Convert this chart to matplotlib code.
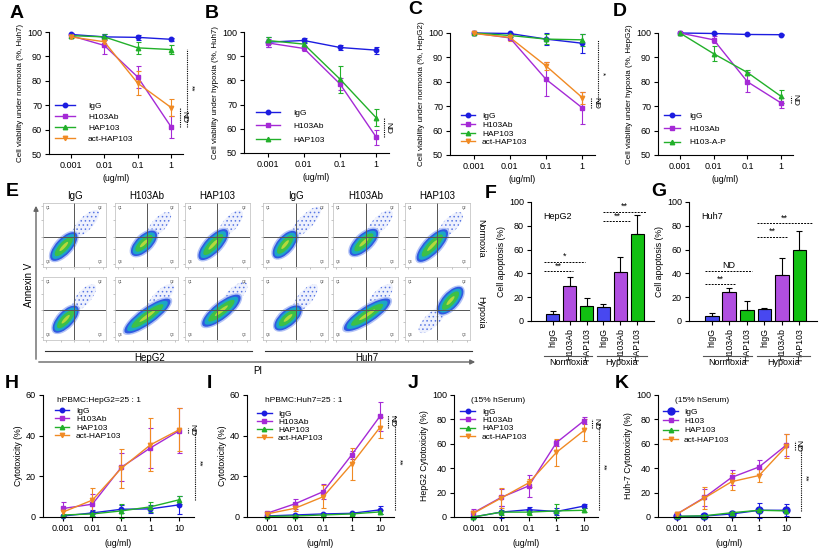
import matplotlib
matplotlib.use("Agg")
import matplotlib.pyplot as plt
from matplotlib.patches import Ellipse, FancyArrowPatch
import numpy as np

plt.rcParams["font.family"] = ["Liberation Sans", "DejaVu Sans"]
plt.rcParams["axes.linewidth"] = 0.8
plt.rcParams["hatch.linewidth"] = 0.6

W, H = 820, 550

# ---------------- data ----------------
conc4 = ["0.001", "0.01", "0.1", "1"]
conc5 = ["0.001", "0.01", "0.1", "1", "10"]

# A: Huh7 normoxia viability
a_igg = [99.0, 98.0, 97.8, 97.0]
a_igg_err = [0.6, 1.2, 1.0, 0.5]
a_h103 = [98.5, 94.5, 81.5, 61.0]
a_h103_err = [0.5, 3.5, 4.5, 4.5]
a_hap = [98.5, 98.0, 93.5, 92.8]
a_hap_err = [0.5, 1.0, 2.5, 2.0]
a_act = [98.0, 96.0, 79.0, 69.0]
a_act_err = [0.5, 1.5, 5.0, 3.5]

# B: Huh7 hypoxia viability
b_igg = [95.8, 96.5, 93.6, 92.5]
b_igg_err = [2.0, 1.0, 1.0, 1.5]
b_h103 = [95.5, 93.2, 78.5, 56.5]
b_h103_err = [1.5, 1.0, 2.5, 3.0]
b_hap = [96.5, 95.0, 80.5, 64.5]
b_hap_err = [1.5, 1.0, 5.5, 3.5]

# C: HepG2 normoxia viability
c_igg = [100.0, 99.8, 97.5, 95.8]
c_igg_err = [0.2, 0.3, 2.5, 3.8]
c_h103 = [100.0, 98.0, 81.0, 69.3]
c_h103_err = [0.2, 1.0, 7.0, 6.5]
c_hap = [100.0, 99.0, 97.5, 97.2]
c_hap_err = [0.2, 0.5, 2.0, 2.5]
c_act = [99.8, 98.2, 86.5, 73.5]
c_act_err = [0.3, 1.5, 1.5, 2.5]

# D: HepG2 hypoxia viability
d_igg = [100.0, 99.8, 99.4, 99.3]
d_igg_err = [0.2, 0.3, 0.3, 0.3]
d_h103 = [100.0, 97.2, 80.0, 71.3]
d_h103_err = [0.2, 1.5, 4.0, 2.0]
d_hap = [100.0, 91.5, 83.8, 74.0]
d_hap_err = [0.2, 3.0, 1.0, 2.5]

# F / G: apoptosis bars
bar_labels = ["hIgG", "H103Ab", "HAP103", "hIgG", "H103Ab", "HAP103"]
f_vals = [6.0, 29.0, 13.0, 12.0, 41.5, 73.0]
f_err = [2.5, 8.0, 6.0, 2.5, 12.0, 16.0]
g_vals = [4.0, 24.0, 9.0, 10.5, 39.0, 60.0]
g_err = [2.5, 4.0, 8.0, 0.8, 14.0, 16.0]

# H: HepG2 ADCC
h_igg = [0.5, 2.0, 3.8, 4.0, 6.0]
h_igg_err = [0.5, 1.5, 2.0, 2.0, 4.5]
h_h103 = [4.2, 6.3, 24.5, 34.0, 42.5]
h_h103_err = [3.0, 5.0, 7.0, 10.0, 11.0]
h_hap = [1.0, 1.5, 3.0, 5.0, 8.5]
h_hap_err = [0.5, 1.5, 3.5, 2.5, 2.0]
h_act = [2.5, 8.3, 24.0, 35.5, 43.0]
h_act_err = [2.0, 6.0, 9.5, 13.0, 10.5]

# I: Huh7 ADCC
i_igg = [0.5, 1.0, 1.5, 1.8, 3.5]
i_igg_err = [0.3, 0.5, 0.5, 0.5, 2.0]
i_h103 = [1.8, 6.5, 12.5, 30.5, 49.5]
i_h103_err = [0.5, 2.5, 3.5, 2.0, 7.0]
i_hap = [0.3, 0.5, 1.0, 1.5, 2.5]
i_hap_err = [0.2, 0.3, 0.5, 0.5, 1.0]
i_act = [1.5, 4.3, 10.0, 26.0, 44.0]
i_act_err = [0.5, 1.5, 5.5, 8.0, 5.0]

# J: HepG2 with 15% human serum
j_igg = [0.0, 4.0, 6.0, 4.5, 9.0]
j_igg_err = [0.5, 5.0, 2.0, 3.0, 2.0]
j_h103 = [3.5, 16.0, 25.5, 61.0, 79.0]
j_h103_err = [3.0, 7.0, 9.0, 2.5, 3.0]
j_hap = [0.0, 4.0, 4.0, 5.0, 5.5]
j_hap_err = [0.5, 2.0, 2.0, 6.0, 1.5]
j_act = [3.0, 15.5, 28.0, 53.0, 71.0]
j_act_err = [2.0, 8.0, 3.0, 11.0, 9.0]

# K: Huh-7 with 15% human serum
k_igg = [0.5, 0.8, 2.5, 5.5, 5.5]
k_igg_err = [0.5, 1.5, 1.5, 6.0, 5.0]
k_h103 = [2.5, 16.0, 32.5, 41.0, 59.0]
k_h103_err = [1.0, 7.0, 6.0, 6.0, 9.0]
k_hap = [0.5, 1.0, 3.5, 5.5, 5.0]
k_hap_err = [0.3, 0.5, 1.0, 1.0, 1.0]
k_act = [2.5, 15.5, 29.0, 34.0, 58.0]
k_act_err = [1.0, 9.0, 7.0, 5.5, 10.0]

# E: flow cytometry cloud shapes (axes fraction): dense core segment + sparse tail
# rows: HepG2 normoxia, HepG2 hypoxia, Huh7 normoxia, Huh7 hypoxia
flow_titles = ["IgG", "H103Ab", "HAP103", "IgG", "H103Ab", "HAP103"]
flow_core = [
    [(0.16, 0.14, 0.50, 0.50), (0.30, 0.22, 0.62, 0.52), (0.25, 0.15, 0.62, 0.55)],
    [(0.20, 0.16, 0.52, 0.50), (0.18, 0.14, 0.85, 0.62), (0.30, 0.25, 0.82, 0.68)],
    [(0.20, 0.18, 0.48, 0.52), (0.30, 0.22, 0.65, 0.55), (0.22, 0.12, 0.62, 0.55)],
    [(0.22, 0.20, 0.55, 0.50), (0.20, 0.18, 0.85, 0.62), (0.55, 0.45, 0.85, 0.80)],
]
flow_tail = [
    [(0.50, 0.50, 0.85, 0.85), (0.55, 0.50, 0.85, 0.82), (0.55, 0.50, 0.85, 0.85)],
    [(0.50, 0.50, 0.80, 0.85), (0.55, 0.50, 0.90, 0.85), (0.60, 0.55, 0.92, 0.88)],
    [(0.45, 0.48, 0.85, 0.90), (0.55, 0.50, 0.88, 0.85), (0.55, 0.50, 0.85, 0.82)],
    [(0.50, 0.48, 0.80, 0.85), (0.55, 0.50, 0.88, 0.85), (0.25, 0.15, 0.60, 0.50)],
]

C_IGG = "#1c1ce0"
C_H103 = "#a52ad6"
C_HAP = "#22b02a"
C_ACT = "#f08a24"
BAR_COLORS = ["#4848f0", "#b04ee0", "#12c012", "#4848f0", "#b04ee0", "#12c012"]


def rect(l, t, r, b):
    return [l / W, 1 - b / H, (r - l) / W, (b - t) / H]


def fx(px):
    return px / W


def fy(py):
    return 1 - py / H


fig = plt.figure(figsize=(8.2, 5.5), dpi=100)

# overlay canvas in pixel coords
can = fig.add_axes([0, 0, 1, 1], zorder=-1)
can.set_xlim(0, W)
can.set_ylim(H, 0)
can.axis("off")


def style_axes(ax):
    for s in ["top", "right"]:
        ax.spines[s].set_visible(False)
    ax.tick_params(direction="out", length=3, width=0.8, labelsize=6.5, pad=2)


def series(ax, y, err, color, marker, label, ms=3.2):
    x = np.arange(len(y))
    ax.errorbar(x, y, yerr=err, color=color, marker=marker, ms=ms, lw=1.0,
                elinewidth=0.8, capsize=1.8, capthick=0.8, label=label, clip_on=False)


def legend(ax, left, top, spacing, handle_px, gap_px):
    fs_px = 6 * 100 / 72
    hs, ls = ax.get_legend_handles_labels()
    hs = [h[0] for h in hs]
    ax.legend(hs, ls, loc="upper left", bbox_to_anchor=(fx(left), fy(top)),
              bbox_transform=fig.transFigure, frameon=False, fontsize=6,
              borderpad=0, borderaxespad=0, handlelength=handle_px / fs_px,
              handletextpad=gap_px / fs_px, labelspacing=(spacing - 9.0) / fs_px)


def sig(ax, x, y0, y1, text, dx=0.12, fs=6):
    ax.plot([x, x], [y0, y1], ls=(0, (1, 1)), color="black", lw=0.8, clip_on=False)
    ax.text(x + dx, (y0 + y1) / 2, text, rotation=-90, ha="center", va="center",
            fontsize=fs, clip_on=False)


def viability(ax, ylabel):
    style_axes(ax)
    ax.set_xlim(-0.65, 3.35)
    ax.set_ylim(50, 100)
    ax.set_xticks(range(4))
    ax.set_xticklabels(conc4)
    ax.set_yticks(range(50, 101, 10))
    ax.set_ylabel(ylabel, fontsize=5.8, labelpad=2)
    ax.set_xlabel("(ug/ml)", fontsize=6.3, labelpad=3)


def cytotox(ax, ylabel, ymax):
    style_axes(ax)
    ax.set_xlim(-0.7, 4.5)
    ax.set_ylim(0, ymax)
    ax.set_xticks(range(5))
    ax.set_xticklabels(conc5)
    ax.set_yticks(range(0, ymax + 1, 20))
    ax.set_ylabel(ylabel, fontsize=6.3, labelpad=2)
    ax.set_xlabel("(ug/ml)", fontsize=6.3, labelpad=4)


# ---------------- A ----------------
axA = fig.add_axes(rect(49, 32, 183, 154))
viability(axA, "Cell viability under normoxia (%, Huh7)")
series(axA, a_igg, a_igg_err, C_IGG, "o", "IgG")
series(axA, a_h103, a_h103_err, C_H103, "s", "H103Ab")
series(axA, a_hap, a_hap_err, C_HAP, "^", "HAP103")
series(axA, a_act, a_act_err, C_ACT, "v", "act-HAP103")
legend(axA, 55, 102, 12.3, 20, 13)
sig(axA, 3.27, 61, 69, "ND")
sig(axA, 3.48, 61, 93, "**")

# ---------------- B ----------------
axB = fig.add_axes(rect(244, 32, 389, 153))
viability(axB, "Cell viability under hypoxia (%, Huh7)")
series(axB, b_igg, b_igg_err, C_IGG, "o", "IgG")
series(axB, b_h103, b_h103_err, C_H103, "s", "H103Ab")
series(axB, b_hap, b_hap_err, C_HAP, "^", "HAP103")
legend(axB, 256, 109, 14.5, 24, 13)
sig(axB, 3.2, 56.5, 64.5, "ND")

# ---------------- C ----------------
axC = fig.add_axes(rect(450, 33, 595, 155))
viability(axC, "Cell viability under normoxia (%, HepG2)")
series(axC, c_igg, c_igg_err, C_IGG, "o", "IgG")
series(axC, c_h103, c_h103_err, C_H103, "s", "H103Ab")
series(axC, c_hap, c_hap_err, C_HAP, "^", "HAP103")
series(axC, c_act, c_act_err, C_ACT, "v", "act-HAP103")
legend(axC, 461, 112, 10, 14, 7)
sig(axC, 3.25, 69.3, 73.5, "ND")
sig(axC, 3.42, 70, 97, "*")

# ---------------- D ----------------
axD = fig.add_axes(rect(658, 33, 793, 155))
viability(axD, "Cell viability under hypoxia (%, HepG2)")
series(axD, d_igg, d_igg_err, C_IGG, "o", "IgG")
series(axD, d_h103, d_h103_err, C_H103, "s", "H103Ab")
series(axD, d_hap, d_hap_err, C_HAP, "^", "H103-A-P")
legend(axD, 664, 112, 14.5, 16, 9)
sig(axD, 3.3, 71.3, 74, "ND", dx=0.12)

# ---------------- E (flow plots) ----------------
col_x = [(43, 106), (115, 178), (185, 250), (263, 328), (333, 398), (405, 470)]
row_y = [(203, 267), (277, 340)]
core_cols = ["#b3c3f6", "#2f5ae2", "#1ba6c6", "#3cc048", "#b5d83c"]
core_w = [0.30, 0.25, 0.20, 0.14, 0.05]
core_f = [1.0, 0.95, 0.85, 0.68, 0.35]
for r in range(2):
    for c in range(6):
        l, rr = col_x[c]
        t, b = row_y[r]
        ax = fig.add_axes(rect(l, t, rr, b))
        ax.set_xlim(0, 1)
        ax.set_ylim(0, 1)
        ax.set_xticks([0.05, 0.28, 0.5, 0.73, 0.95])
        ax.set_yticks([0.05, 0.28, 0.47, 0.73, 0.95])
        ax.set_xticklabels([])
        ax.set_yticklabels([])
        ax.tick_params(length=1.2, width=0.4, color="#999999")
        for s in ax.spines.values():
            s.set_color("#bbbbbb")
            s.set_linewidth(0.5)
        ax.axvline(0.5, color="#555555", lw=0.7)
        ax.axhline(0.47, color="#555555", lw=0.7)
        shape_row = [0, 2, 1, 3][r * 2 + (1 if c >= 3 else 0)]
        k = c % 3
        x0, y0, x1, y1 = flow_tail[shape_row][k]
        ln = np.hypot(x1 - x0, y1 - y0)
        ang = np.degrees(np.arctan2(y1 - y0, x1 - x0))
        ax.add_patch(Ellipse(((x0 + x1) / 2, (y0 + y1) / 2), ln * 1.15, 0.22, angle=ang,
                             facecolor="#eef1fd", edgecolor="#5a78e4", hatch="....",
                             lw=0))
        x0, y0, x1, y1 = flow_core[shape_row][k]
        ln = np.hypot(x1 - x0, y1 - y0)
        ang = np.degrees(np.arctan2(y1 - y0, x1 - x0))
        for col, wd, f in zip(core_cols, core_w, core_f):
            ax.add_patch(Ellipse(((x0 + x1) / 2, (y0 + y1) / 2), ln * f + wd * 0.4, wd,
                                 angle=ang, facecolor=col, edgecolor="none"))
        for q, (qx, qy, ha, va) in enumerate([(0.05, 0.95, "left", "top"),
                                              (0.95, 0.95, "right", "top"),
                                              (0.95, 0.05, "right", "bottom"),
                                              (0.05, 0.05, "left", "bottom")]):
            ax.text(qx, qy, "Q%d" % (q + 1), fontsize=2.5, ha=ha, va=va, color="#444444")
        if r == 0:
            ax.set_title(flow_titles[c], fontsize=7, pad=3)

# E frame arrows and labels
can.add_patch(FancyArrowPatch((36, 362), (36, 203), arrowstyle="-|>", mutation_scale=7,
                              color="#666666", lw=1.0))
can.add_patch(FancyArrowPatch((36, 362), (478, 362), arrowstyle="-|>", mutation_scale=7,
                              color="#666666", lw=1.0))
can.text(29, 285, "Annexin V", rotation=90, ha="center", va="center", fontsize=7)
can.text(258, 371, "PI", ha="center", va="center", fontsize=7)
can.plot([45, 252], [351, 351], color="#333333", lw=0.8)
can.plot([265, 472], [351, 351], color="#333333", lw=0.8)
can.text(150, 358, "HepG2", ha="center", va="center", fontsize=7)
can.text(367, 358, "Huh7", ha="center", va="center", fontsize=7)
can.text(481, 238, "Normoxia", rotation=-90, ha="center", va="center", fontsize=6.5)
can.text(481, 312, "Hypoxia", rotation=-90, ha="center", va="center", fontsize=6.5)


# ---------------- F / G ----------------
def apoptosis(ax, vals, err, name, lines):
    style_axes(ax)
    x = np.arange(len(vals))
    ax.bar(x, vals, width=0.78, color=BAR_COLORS, edgecolor="black", lw=0.8)
    ax.errorbar(x, vals, yerr=[np.zeros(len(err)), err], fmt="none", ecolor="black",
                elinewidth=0.8, capsize=2, capthick=0.8)
    ax.set_xlim(-1.3, 6.0)
    ax.set_ylim(0, 100)
    ax.set_yticks(range(0, 101, 20))
    ax.set_xticks(x)
    ax.set_xticklabels(bar_labels, rotation=90, fontsize=6.3)
    ax.set_ylabel("Cell apoptosis (%)", fontsize=6.3, labelpad=2)
    ax.text(-0.6, 88, name, fontsize=6.5, ha="left", va="center")
    for xa, xb, y, txt in lines:
        ax.plot([xa, xb], [y, y], ls=(0, (2, 1.2)), color="black", lw=0.7)
        ax.text((xa + xb) / 2, y + 0.5, txt, ha="center", va="bottom", fontsize=6.5)
    tr = ax.get_xaxis_transform()
    for xa, xb, txt in [(-0.5, 2.3, "Normoxia"), (2.6, 5.6, "Hypoxia")]:
        ax.plot([xa, xb], [-0.295, -0.295], transform=tr, color="#555555", lw=0.8,
                clip_on=False)
        ax.text((xa + xb) / 2, -0.345, txt, transform=tr, ha="center", va="center",
                fontsize=6.5)


axF = fig.add_axes(rect(531, 202, 654, 321))
apoptosis(axF, f_vals, f_err, "HepG2",
          [(-0.5, 1.9, 50, "*"), (-0.5, 1.2, 42, "**"),
           (3.0, 5.5, 92, "**"), (3.0, 4.6, 84, "**")])
axG = fig.add_axes(rect(689, 202, 817, 321))
apoptosis(axG, g_vals, g_err, "Huh7",
          [(-0.4, 2.3, 42, "ND"), (-0.4, 1.4, 31, "**"),
           (2.6, 5.7, 82, "**"), (2.6, 4.3, 71, "**")])

# ---------------- H ----------------
axH = fig.add_axes(rect(43, 395, 194, 517))
cytotox(axH, "Cytotoxicity (%)", 60)
series(axH, h_igg, h_igg_err, C_IGG, "o", "IgG")
series(axH, h_h103, h_h103_err, C_H103, "s", "H103Ab")
series(axH, h_hap, h_hap_err, C_HAP, "^", "HAP103")
series(axH, h_act, h_act_err, C_ACT, "v", "act-HAP103")
axH.text(0.09, 0.955, "hPBMC:HepG2=25 : 1", transform=axH.transAxes, fontsize=6,
         va="center")
legend(axH, 55, 407, 9.6, 14, 7)
sig(axH, 4.28, 41.5, 44, "ND", dx=0.13)
sig(axH, 4.55, 8.5, 44, "**", dx=0.12)

# ---------------- I ----------------
axI = fig.add_axes(rect(247, 395, 394, 517))
cytotox(axI, "Cytotoxicity (%)", 60)
series(axI, i_igg, i_igg_err, C_IGG, "o", "IgG")
series(axI, i_h103, i_h103_err, C_H103, "s", "H103Ab")
series(axI, i_hap, i_hap_err, C_HAP, "^", "HAP103")
series(axI, i_act, i_act_err, C_ACT, "v", "act-HAP103")
axI.text(0.12, 0.955, "hPBMC:Huh7=25 : 1", transform=axI.transAxes, fontsize=6,
         va="center")
legend(axI, 257, 410, 9.3, 15, 6)
sig(axI, 4.3, 44, 50, "ND", dx=0.13)
sig(axI, 4.55, 3.5, 50, "**", dx=0.12)

# ---------------- J ----------------
axJ = fig.add_axes(rect(454, 395, 598, 517))
cytotox(axJ, "HepG2 Cytotoxicity (%)", 100)
series(axJ, j_igg, j_igg_err, C_IGG, "o", "IgG")
series(axJ, j_h103, j_h103_err, C_H103, "s", "H103Ab")
series(axJ, j_hap, j_hap_err, C_HAP, "^", "HAP103")
series(axJ, j_act, j_act_err, C_ACT, "v", "act-HAP103")
axJ.text(0.12, 0.955, "(15% hSerum)", transform=axJ.transAxes, fontsize=6, va="center")
legend(axJ, 460, 408, 9.5, 15, 7)
sig(axJ, 4.3, 73, 80, "ND", dx=0.13)
sig(axJ, 4.55, 6, 76, "**", dx=0.12)

# ---------------- K ----------------
axK = fig.add_axes(rect(658, 395, 800, 517))
cytotox(axK, "Huh-7 Cytotoxicity (%)", 100)
series(axK, k_igg, k_igg_err, C_IGG, "o", "IgG", ms=5)
series(axK, k_h103, k_h103_err, C_H103, "s", "H103")
series(axK, k_hap, k_hap_err, C_HAP, "^", "HAP103")
series(axK, k_act, k_act_err, C_ACT, "v", "act-HAP103")
axK.text(0.12, 0.955, "(15% hSerum)", transform=axK.transAxes, fontsize=6, va="center")
legend(axK, 663, 408, 10.5, 15, 6)
sig(axK, 4.3, 55, 62, "ND", dx=0.13)
sig(axK, 4.55, 5, 59, "**", dx=0.12)

# ---------------- panel letters ----------------
for letter, x, y in [("A", 17, 14), ("B", 212, 14), ("C", 415, 10), ("D", 620, 11),
                     ("E", 12, 191), ("F", 491, 193), ("G", 659, 191),
                     ("H", 12, 383), ("I", 209, 383), ("J", 413, 383), ("K", 622, 383)]:
    can.text(x, y, letter, fontsize=14, fontweight="bold", ha="center", va="center")

fig.savefig("out.png", dpi=100)
